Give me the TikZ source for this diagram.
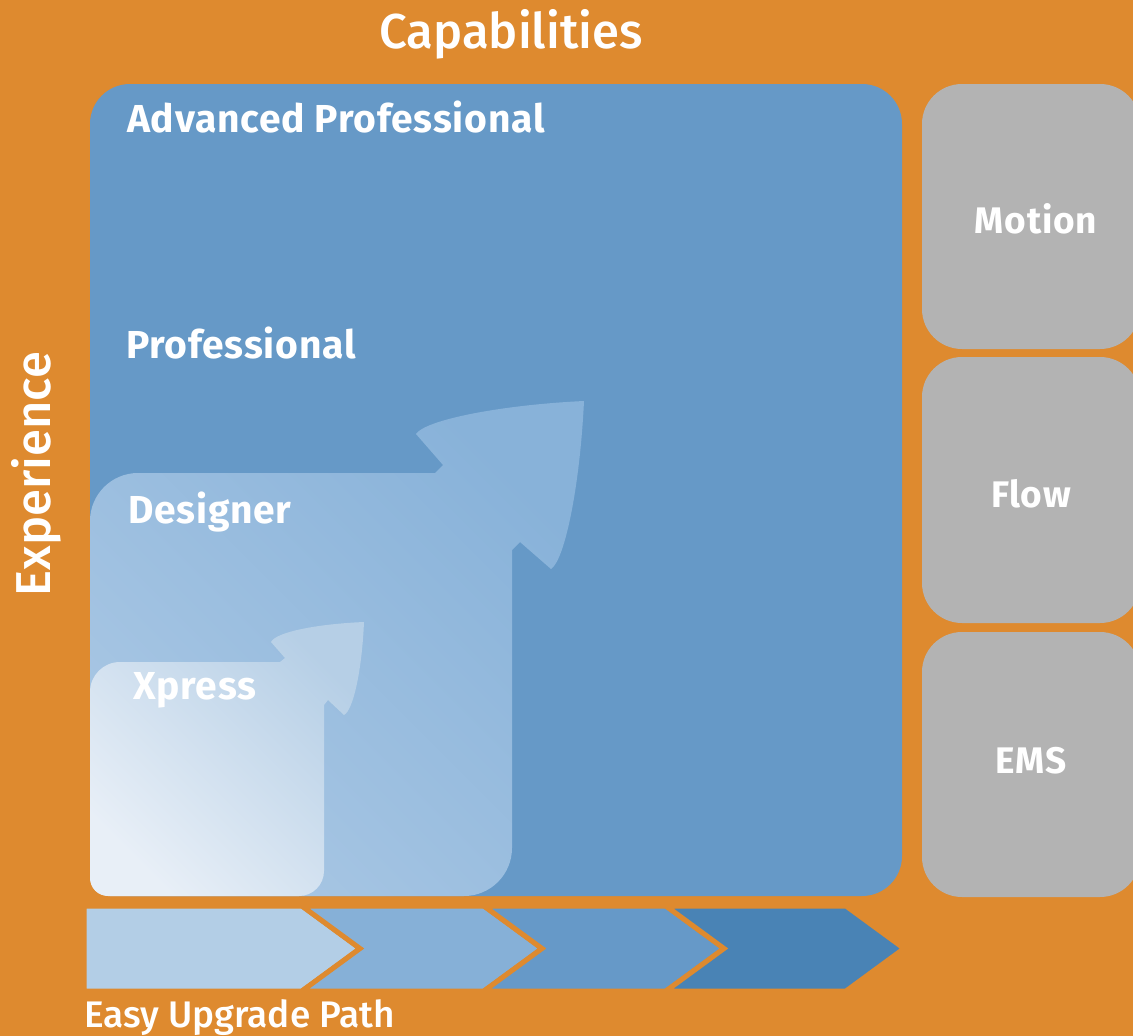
\documentclass[tikz,border=0pt]{standalone}
\usepackage{fontspec}
\setmainfont{Fira Sans}
\newfontfamily\regfont{Fira Sans Medium}
\definecolor{bg}{HTML}{DE8A2F}
\definecolor{bigblue}{HTML}{6699C7}
\definecolor{grey}{HTML}{B3B3B3}
\definecolor{chA}{HTML}{B3CEE6}
\definecolor{chB}{HTML}{86B0D7}
\definecolor{chC}{HTML}{6699C8}
\definecolor{chD}{HTML}{4983B5}
\definecolor{desLight}{HTML}{A9C7E4}
\definecolor{desDark}{HTML}{88B2D9}
\definecolor{xpLight}{HTML}{E8EFF7}
\definecolor{xpDark}{HTML}{B6CFE6}
\begin{document}
\begin{tikzpicture}[x=1pt,y=-1pt,
  lbl/.style={text=white,inner sep=0pt,font=\fontsize{39}{39}\selectfont\bfseries\addfontfeatures{LetterSpace=2}},
  glbl/.style={text=white,inner sep=0pt,font=\fontsize{37}{37}\selectfont\bfseries\addfontfeatures{LetterSpace=2}},
  ttl/.style={text=white,inner sep=0pt,font=\regfont\fontsize{49}{49}\selectfont},
  sub/.style={text=white,inner sep=0pt,font=\regfont\fontsize{37}{37}\selectfont},
  chev/.style={draw=bg,line width=5pt,line join=miter},
  greybox/.style={fill=grey,rounded corners=40pt}]
\fill[bg] (0,0) rectangle (1133,1036);
\useasboundingbox (0,0) rectangle (1133,1036);
% big box
\fill[bigblue,rounded corners=40pt] (90,84) rectangle (902,896);
% grey boxes
\begin{scope}
\clip (0,0) rectangle (1133,1036);
\fill[greybox] (922,84) rectangle (1140,349);
\fill[greybox] (922,357) rectangle (1140,623);
\fill[greybox] (922,632) rectangle (1140,897);
\end{scope}
% designer
\shade[top color=desDark,bottom color=desLight,shading angle=-45]
  (90,876) -- (90,521) .. controls (90,494.5) and (111.5,473) .. (138,473)
  -- (435,473) -- (443,465) -- (416,434)
  .. controls (425,420) and (500,405) .. (584,401)
  .. controls (580,485) and (565,560) .. (551,569)
  -- (520,542) -- (512,550) -- (512,848)
  .. controls (512,874.5) and (490.5,896) .. (464,896)
  -- (110,896) .. controls (99,896) and (90,887) .. (90,876) -- cycle;
% xpress
\shade[top color=xpDark,bottom color=xpLight,shading angle=-45]
  (90,878) -- (90,692) .. controls (90,675.4) and (103.4,662) .. (120,662)
  -- (280,662) -- (285,658) -- (271,642)
  .. controls (276,632) and (317,624) .. (364,622)
  .. controls (362,669) and (353.5,710) .. (344,715)
  -- (328,700) -- (324,705) -- (324,871)
  .. controls (324,884.8) and (312.8,896) .. (299,896)
  -- (108,896) .. controls (98,896) and (90,888) .. (90,878) -- cycle;
% chevrons
\filldraw[chev,fill=chA] (84,906) -- (302,906) -- (360,948.5) -- (302,991) -- (84,991) -- cycle;
\filldraw[chev,fill=chB] (302,906) -- (484,906) -- (542,948.5) -- (484,991) -- (302,991) -- (360,948.5) -- cycle;
\filldraw[chev,fill=chC] (484,906) -- (666,906) -- (724,948.5) -- (666,991) -- (484,991) -- (542,948.5) -- cycle;
\filldraw[chev,fill=chD] (666,906) -- (846,906) -- (904,948.5) -- (846,991) -- (666,991) -- (724,948.5) -- cycle;
% texts
\node[ttl,anchor=base] (cap) at (511,48) {Capabilities};
\node[ttl,anchor=base,rotate=90] (exp) at (50,474) {Experience};
\node[sub,anchor=base west] (eup) at (84,1027) {Easy Upgrade Path};
\node[lbl,anchor=base west] (adv) at (127,132) {Advanced Professional};
\node[lbl,anchor=base west] (pro) at (126,358) {Professional};
\node[lbl,anchor=base west] (des) at (128,523) {Designer};
\node[lbl,anchor=base west] (xp) at (133,699) {Xpress};
\node[glbl,anchor=base] (mot) at (1036,233) {Motion};
\node[glbl,anchor=base] (flo) at (1031,507) {Flow};
\node[glbl,anchor=base] (ems) at (1031,773) {EMS};
\end{tikzpicture}
\end{document}
